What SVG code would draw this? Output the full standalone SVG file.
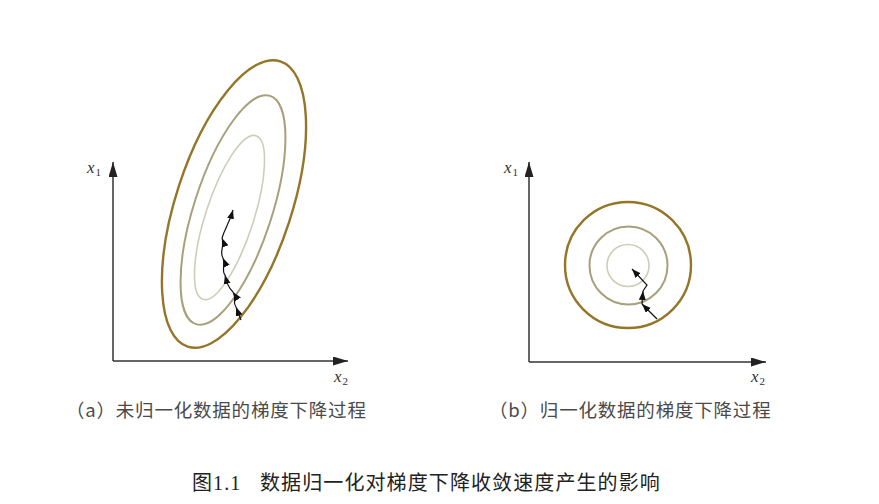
<svg xmlns="http://www.w3.org/2000/svg" width="879" height="504" viewBox="0 0 879 504">
<defs>
<marker id="ah" markerUnits="userSpaceOnUse" markerWidth="16" markerHeight="10" refX="15" refY="4.5" orient="auto">
<path d="M0,0 L15,4.5 L0,9 z" fill="#222"/>
</marker>
<marker id="sa" markerUnits="userSpaceOnUse" markerWidth="10" markerHeight="8" refX="9" refY="3.5" orient="auto">
<path d="M0,0 L9,3.5 L0,7 z" fill="#111"/>
</marker>
</defs>
<style>
.axis{stroke:#333;stroke-width:1.5;fill:none}
.lbl{font-family:"Liberation Serif",serif;font-style:italic;font-size:17px;fill:#333}
.sub{font-family:"Liberation Serif",serif;font-style:normal;font-size:11px;fill:#333}
.c1{fill:none;stroke:#957528;stroke-width:2.4}
.c2{fill:none;stroke:#a8a07c;stroke-width:2}
.c3{fill:none;stroke:#cfcdb8;stroke-width:1.6}
.step{fill:none;stroke:#111;stroke-width:1.2}
.cap{font-family:"Noto Sans CJK SC","Liberation Sans",sans-serif;font-size:18.5px;fill:#4a4a4a;letter-spacing:0.8px}
.title{font-family:"Liberation Serif","Noto Sans CJK SC",serif;font-size:20px;fill:#222;letter-spacing:1.1px}
</style>
<rect width="879" height="504" fill="#fff"/>

<g id="panel-a">
<g id="axes-a">
<path class="axis" d="M113,361 V162" marker-end="url(#ah)"/>
<path class="axis" d="M113,361 H348" marker-end="url(#ah)"/>
<text class="lbl" x="87" y="173">x<tspan class="sub" dx="1" dy="3">1</tspan></text>
<text class="lbl" x="334" y="382">x<tspan class="sub" dx="1" dy="3">2</tspan></text>
</g>
<g id="contours-a">
<ellipse class="c1" cx="234" cy="204" rx="58" ry="150" transform="rotate(18 234 204)"/>
<ellipse class="c2" cx="233" cy="210" rx="39" ry="120" transform="rotate(18 233 210)"/>
<ellipse class="c3" cx="229.5" cy="217.5" rx="24" ry="86" transform="rotate(18 229.5 217.5)"/>
</g>
<g id="path-a">
<path class="step" d="M241,320 L236,307" marker-end="url(#sa)"/>
<path class="step" d="M236,307 C232,302 237,298 233,292" marker-end="url(#sa)"/>
<path class="step" d="M233,292 C228,287 227,283 225,275" marker-end="url(#sa)"/>
<path class="step" d="M225,275 C221,270 226,265 223,258" marker-end="url(#sa)"/>
<path class="step" d="M223,258 C219,252 225,246 222,238" marker-end="url(#sa)"/>
<path class="step" d="M222,238 C225,228 229,224 233,210" marker-end="url(#sa)"/>
</g>
<text id="cap-a" class="cap" x="66" y="417">（a）未归一化数据的梯度下降过程</text>
</g>

<g id="panel-b">
<g id="axes-b">
<path class="axis" d="M529,362 V162" marker-end="url(#ah)"/>
<path class="axis" d="M529,362 H766" marker-end="url(#ah)"/>
<text class="lbl" x="504" y="173">x<tspan class="sub" dx="1" dy="3">1</tspan></text>
<text class="lbl" x="751" y="382">x<tspan class="sub" dx="1" dy="3">2</tspan></text>
</g>
<g id="contours-b">
<circle class="c1" cx="628" cy="265" r="63"/>
<circle class="c2" cx="628.5" cy="265.5" r="39"/>
<circle class="c3" cx="628" cy="265.5" r="21"/>
</g>
<g id="path-b">
<path class="step" d="M657,319 L642,304" marker-end="url(#sa)"/>
<path class="step" d="M642,304 L643,291" marker-end="url(#sa)"/>
<path class="step" d="M643,291 L647,285 L632,269" marker-end="url(#sa)"/>
</g>
<text id="cap-b" class="cap" x="489" y="417">（b）归一化数据的梯度下降过程</text>
</g>

<g id="figure-title">
<text class="title" x="192" y="490">图1.1</text>
<text class="title" x="260" y="490">数据归一化对梯度下降收敛速度产生的影响</text>
</g>
</svg>
